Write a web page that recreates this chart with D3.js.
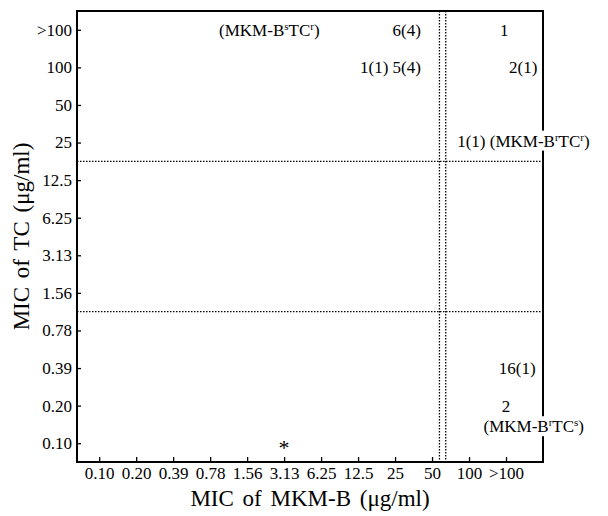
<!DOCTYPE html>
<html>
<head>
<meta charset="utf-8">
<script src="https://cdn.jsdelivr.net/npm/d3@7"></script>
<style>
  body { margin: 0; background: #fff; }
  text { font-family: "Liberation Serif", "Times New Roman", serif; fill: #000; }
</style>
</head>
<body>
<script>
// MIC levels (µg/ml), same scale on both axes
var mkmLevels = ['0.10', '0.20', '0.39', '0.78', '1.56', '3.13', '6.25', '12.5', '25', '50', '100', '>100'];
var tcLevels = ['0.10', '0.20', '0.39', '0.78', '1.56', '3.13', '6.25', '12.5', '25', '50', '100', '>100'];

// breakpoints (in level index units)
var mkmBreaks = [9.2, 9.37];
var tcBreaks = [3.5, 7.5];

// cell annotations: text, x level index, y level index, anchor
var noteText = ['(MKM-B^sTC^r)', '6(4)', '1(1) 5(4)', '1', '2(1)', '1(1) (MKM-B^rTC^r)', '16(1)', '2', '(MKM-B^rTC^s)', '*'];
var noteX = [4.6, 8.7, 8.7, 10.95, 11.85, 9.68, 11.8, 11.0, 11.75, 5.0];
var noteY = [11, 11, 10, 11, 10, 8.05, 2, 1, 0.45, 0];
var noteAnchor = ['middle', 'end', 'end', 'middle', 'end', 'start', 'end', 'middle', 'middle', 'middle'];
var noteBg = [false, false, false, false, false, true, false, false, true, false];

var W = 608, H = 516;
var margin = {top: 11, right: 65, bottom: 54, left: 77};
var width = W - margin.left - margin.right;
var height = H - margin.top - margin.bottom;

var svg = d3.select('body').append('svg')
    .attr('width', W)
    .attr('height', H);

var g = svg.append('g')
    .attr('transform', 'translate(' + margin.left + ',' + margin.top + ')');

var x = d3.scaleLinear().domain([-0.6, 12]).range([0, width]);
var y = d3.scaleLinear().domain([-0.5, 11.5]).range([height, 0]);

//x-axis
var xAxis = g.append('g')
    .attr('transform', 'translate(0,' + height + ')')
    .call(d3.axisBottom(x)
        .tickValues(d3.range(mkmLevels.length))
        .tickFormat(function (i) { return mkmLevels[i]; })
        .tickSize(-5)
        .tickPadding(5));
xAxis.select('.domain').remove();
xAxis.selectAll('text').attr('font-size', 17).attr('font-family', null);
xAxis.selectAll('line').attr('stroke-width', 1.3);

//y-axis
var yAxis = g.append('g')
    .call(d3.axisLeft(y)
        .tickValues(d3.range(tcLevels.length))
        .tickFormat(function (i) { return tcLevels[i]; })
        .tickSize(-4)
        .tickPadding(5));
yAxis.select('.domain').remove();
yAxis.selectAll('text').attr('font-size', 17).attr('font-family', null);
yAxis.selectAll('line').attr('stroke-width', 1.3);

//breakpoint lines
g.selectAll('line.vbreak')
    .data(mkmBreaks)
    .enter().append('line')
    .attr('class', 'vbreak')
    .attr('x1', function (d) { return x(d); })
    .attr('x2', function (d) { return x(d); })
    .attr('y1', 0)
    .attr('y2', height)
    .attr('stroke', '#000')
    .attr('stroke-width', 1.3)
    .attr('stroke-dasharray', '1.5,1.5');

g.selectAll('line.hbreak')
    .data(tcBreaks)
    .enter().append('line')
    .attr('class', 'hbreak')
    .attr('x1', 0)
    .attr('x2', width)
    .attr('y1', function (d) { return y(d); })
    .attr('y2', function (d) { return y(d); })
    .attr('stroke', '#000')
    .attr('stroke-width', 1.3)
    .attr('stroke-dasharray', '1.5,1.5');

//frame
g.append('rect')
    .attr('x', 0)
    .attr('y', 0)
    .attr('width', width)
    .attr('height', height)
    .attr('fill', 'none')
    .attr('stroke', '#000')
    .attr('stroke-width', 2);

//annotations
noteText.forEach(function (t, i) {
    var ng = g.append('g');
    var txt = ng.append('text')
        .attr('x', x(noteX[i]))
        .attr('y', y(noteY[i]))
        .attr('dy', t === '*' ? '0.55em' : '0.35em')
        .attr('text-anchor', noteAnchor[i])
        .attr('font-size', t === '*' ? 22 : 17);
    // split on ^x for superscripts
    var shift = 0;
    t.split(/(\^\w)/).forEach(function (part) {
        if (!part) return;
        if (part[0] === '^') {
            txt.append('tspan')
                .attr('font-size', 11)
                .attr('dy', -6)
                .text(part.slice(1));
            shift = 6;
        } else {
            txt.append('tspan').attr('dy', shift || null).text(part);
            shift = 0;
        }
    });
    if (noteBg[i]) {
        var bb = txt.node().getBBox();
        ng.insert('rect', 'text')
            .attr('x', bb.x - 1)
            .attr('y', bb.y)
            .attr('width', bb.width + 2)
            .attr('height', bb.height)
            .attr('fill', '#fff');
    }
});

//axis titles
svg.append('text')
    .attr('x', margin.left + width / 2)
    .attr('y', H - 10)
    .attr('text-anchor', 'middle')
    .attr('font-size', 23)
    .attr('word-spacing', 3)
    .text('MIC of MKM-B (\u03bcg/ml)');

svg.append('text')
    .attr('transform', 'translate(29,' + (margin.top + height / 2) + ') rotate(-90)')
    .attr('text-anchor', 'middle')
    .attr('font-size', 23)
    .attr('word-spacing', 3)
    .text('MIC of TC (\u03bcg/ml)');
</script>
</body>
</html>
